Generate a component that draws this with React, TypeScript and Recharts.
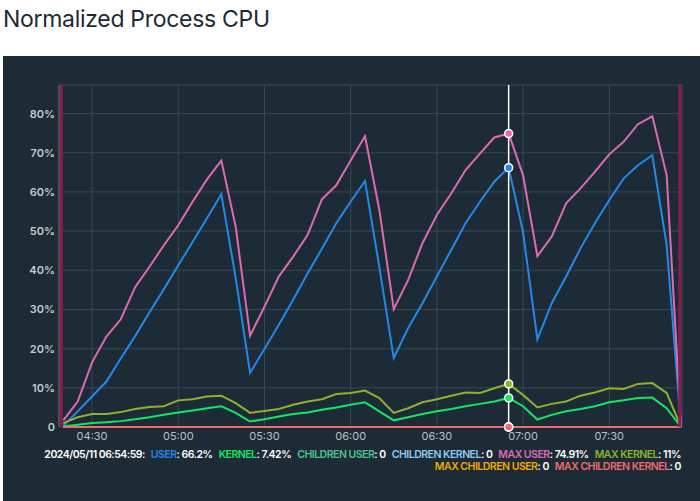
import {
  CartesianGrid,
  Line,
  LineChart,
  ReferenceDot,
  ReferenceLine,
  XAxis,
  YAxis,
} from 'recharts'

const TIMES = [
  '04:19:59', '04:24:59', '04:29:59', '04:34:59', '04:39:59', '04:44:59', '04:49:59', '04:54:59',
  '04:59:59', '05:04:59', '05:09:59', '05:14:59', '05:19:59', '05:24:59', '05:29:59', '05:34:59',
  '05:39:59', '05:44:59', '05:49:59', '05:54:59', '05:59:59', '06:04:59', '06:09:59', '06:14:59',
  '06:19:59', '06:24:59', '06:29:59', '06:34:59', '06:39:59', '06:44:59', '06:49:59', '06:54:59',
  '06:59:59', '07:04:59', '07:09:59', '07:14:59', '07:19:59', '07:24:59', '07:29:59', '07:34:59',
  '07:39:59', '07:44:59', '07:49:59', '07:54:59',
]

const USER = [
  0.3, 4.0, 7.8, 11.6, 17.5, 23.2, 29.3, 35.2, 41.3, 47.2, 53.3, 59.4,
  38.0, 13.8, 19.9, 26.1, 32.5, 39.2, 45.5, 52.0, 57.5, 62.8,
  40.8, 17.6, 25.2, 31.6, 38.4, 45.2, 52.0, 57.5, 62.6, 66.2,
  49.8, 22.4, 31.6, 38.4, 45.6, 52.0, 57.9, 63.4, 66.8, 69.4, 46.4, 0,
]
const KERNEL = [
  0.15, 0.6, 1.0, 1.2, 1.5, 2.0, 2.5, 3.1, 3.7, 4.2, 4.8, 5.3,
  3.6, 1.4, 2.0, 2.7, 3.3, 3.7, 4.4, 5.0, 5.7, 6.3,
  4.0, 1.7, 2.5, 3.3, 4.0, 4.6, 5.3, 5.9, 6.5, 7.42,
  5.3, 1.9, 3.1, 4.0, 4.6, 5.3, 6.3, 6.8, 7.4, 7.5, 4.8, 0,
]
const MAX_USER = [
  1.7, 6.5, 16.5, 23.1, 27.5, 35.7, 40.9, 46.4, 51.5, 57.5, 63.2, 68.0,
  51.1, 23.3, 30.7, 38.4, 43.5, 49.0, 58.1, 61.7, 68.0, 74.2,
  55.4, 30.1, 37.5, 46.9, 54.1, 59.6, 65.6, 69.8, 73.9, 74.91,
  64.3, 43.6, 48.6, 57.1, 60.9, 65.1, 69.6, 72.8, 77.3, 79.3, 64.3, 0,
]
const MAX_KERNEL = [
  1.0, 2.5, 3.3, 3.3, 3.8, 4.6, 5.1, 5.3, 6.8, 7.1, 7.8, 8.0,
  6.1, 3.6, 4.1, 4.6, 5.7, 6.5, 7.1, 8.4, 8.7, 9.3,
  7.4, 3.6, 4.8, 6.3, 7.1, 8.0, 8.8, 8.7, 9.9, 11.0,
  8.2, 5.0, 5.9, 6.5, 8.0, 8.8, 9.9, 9.7, 11.0, 11.2, 8.7, 0,
]
// the four children series are flat zero for the whole range
const ZERO = TIMES.map(() => 0)

const X_TICKS = ['04:30', '05:00', '05:30', '06:00', '06:30', '07:00', '07:30']
const Y_TICKS = [0, 10, 20, 30, 40, 50, 60, 70, 80]

const HOVER_TIME = '06:54:59'
const RANGE_START = '04:19:17'
const RANGE_END = '07:54:32'

const SERIES = [
  { key: 'user', label: 'USER', color: '#2389e8', values: USER, text: '66.2%' },
  { key: 'kernel', label: 'KERNEL', color: '#13e565', values: KERNEL, text: '7.42%' },
  { key: 'childUser', label: 'CHILDREN USER', color: '#4cc38a', values: ZERO, text: '0' },
  { key: 'childKernel', label: 'CHILDREN KERNEL', color: '#8fcaf2', values: ZERO, text: '0' },
  { key: 'maxUser', label: 'MAX USER', color: '#de6bb2', values: MAX_USER, text: '74.91%' },
  { key: 'maxKernel', label: 'MAX KERNEL', color: '#8fb12b', values: MAX_KERNEL, text: '11%' },
  { key: 'maxChildUser', label: 'MAX CHILDREN USER', color: '#f2a900', values: ZERO, text: '0' },
  { key: 'maxChildKernel', label: 'MAX CHILDREN KERNEL', color: '#f06a6f', values: ZERO, text: '0' },
]

const toSec = (s: string) => {
  const [h, m, sec] = s.split(':').map(Number)
  return h * 3600 + m * 60 + (sec || 0)
}
const pad = (n: number) => String(n).padStart(2, '0')
const fmtTime = (v: number) => `${pad(Math.floor(v / 3600))}:${pad(Math.floor((v % 3600) / 60))}`

const data = TIMES.map((t, i) => {
  const row: Record<string, number> = { t: toSec(t) }
  SERIES.forEach((s) => (row[s.key] = s.values[i]))
  return row
})
const hoverIdx = TIMES.indexOf(HOVER_TIME)

const FONT = 'Inter, "Noto Sans", sans-serif'

function LegendItem(props: { label: string; color: string; text: string }) {
  return (
    <span style={{ marginLeft: 6 }}>
      <span style={{ color: props.color }}>{props.label}</span>
      <span>: {props.text}</span>
    </span>
  )
}

export default function App() {
  const first = SERIES.slice(0, 6)
  const second = SERIES.slice(6)
  return (
    <div style={{ position: 'relative', width: 700, height: 501, fontFamily: FONT, overflow: 'hidden' }}>
      <style>{`body{margin:0}`}</style>
      <div
        style={{
          position: 'absolute',
          left: 3,
          top: 5,
          fontSize: 23,
          color: '#1b2b36',
          letterSpacing: -0.3,
        }}
      >
        Normalized Process CPU
      </div>
      <div style={{ position: 'absolute', left: 3, top: 56, width: 697, height: 445, background: '#1c2b36' }} />
      <div style={{ position: 'absolute', left: 0, top: 56 }}>
        <LineChart width={700} height={400} data={data} margin={{ top: 29, right: 18, left: 0, bottom: 9 }}>
          <CartesianGrid stroke="#3a4852" strokeWidth={1} />
          <XAxis
            dataKey="t"
            type="number"
            domain={[toSec(TIMES[0]) - 90, toSec(TIMES[TIMES.length - 1]) + 20]}
            ticks={X_TICKS.map(toSec)}
            tickFormatter={fmtTime}
            axisLine={false}
            tickLine={false}
            tickSize={3}
            tickMargin={2}
            height={20}
            tick={{ fontSize: 11, fill: '#b9c0c6', fontFamily: FONT }}
          />
          <YAxis
            domain={[0, 87.3]}
            ticks={Y_TICKS}
            tickFormatter={(v: number) => (v === 0 ? '0' : `${v}%`)}
            axisLine={{ stroke: '#5d6a73' }}
            tickLine={false}
            tickSize={3}
            tickMargin={1}
            width={59}
            tick={{ fontSize: 11, fill: '#c4cacf', fontWeight: 600, fontFamily: FONT }}
          />
          {SERIES.map((s) => (
            <Line
              key={s.key}
              type="linear"
              dataKey={s.key}
              stroke={s.color}
              strokeWidth={2}
              dot={false}
              activeDot={false}
              isAnimationActive={false}
            />
          ))}
          <ReferenceLine x={toSec(RANGE_START)} stroke="#8d1a4c" strokeWidth={3} />
          <ReferenceLine x={toSec(RANGE_END)} stroke="#8d1a4c" strokeWidth={3} />
          <ReferenceLine x={toSec(HOVER_TIME)} stroke="#ffffff" strokeWidth={1.5} />
          {SERIES.map((s) => (
            <ReferenceDot
              key={'dot-' + s.key}
              x={toSec(HOVER_TIME)}
              y={s.values[hoverIdx]}
              r={4}
              fill={s.color}
              stroke="#ffffff"
              strokeWidth={1.5}
              ifOverflow="visible"
            />
          ))}
        </LineChart>
      </div>
      <div
        style={{
          position: 'absolute',
          left: 0,
          top: 449,
          width: 681,
          textAlign: 'right',
          fontSize: 10.5,
          fontWeight: 600,
          letterSpacing: -0.5,
          lineHeight: '12px',
          color: '#ffffff',
          whiteSpace: 'nowrap',
        }}
      >
        <div>
          <span>2024/05/11 {HOVER_TIME}:</span>
          {first.map((s) => (
            <LegendItem key={s.key} label={s.label} color={s.color} text={s.text} />
          ))}
        </div>
        <div>
          {second.map((s) => (
            <LegendItem key={s.key} label={s.label} color={s.color} text={s.text} />
          ))}
        </div>
      </div>
    </div>
  )
}
